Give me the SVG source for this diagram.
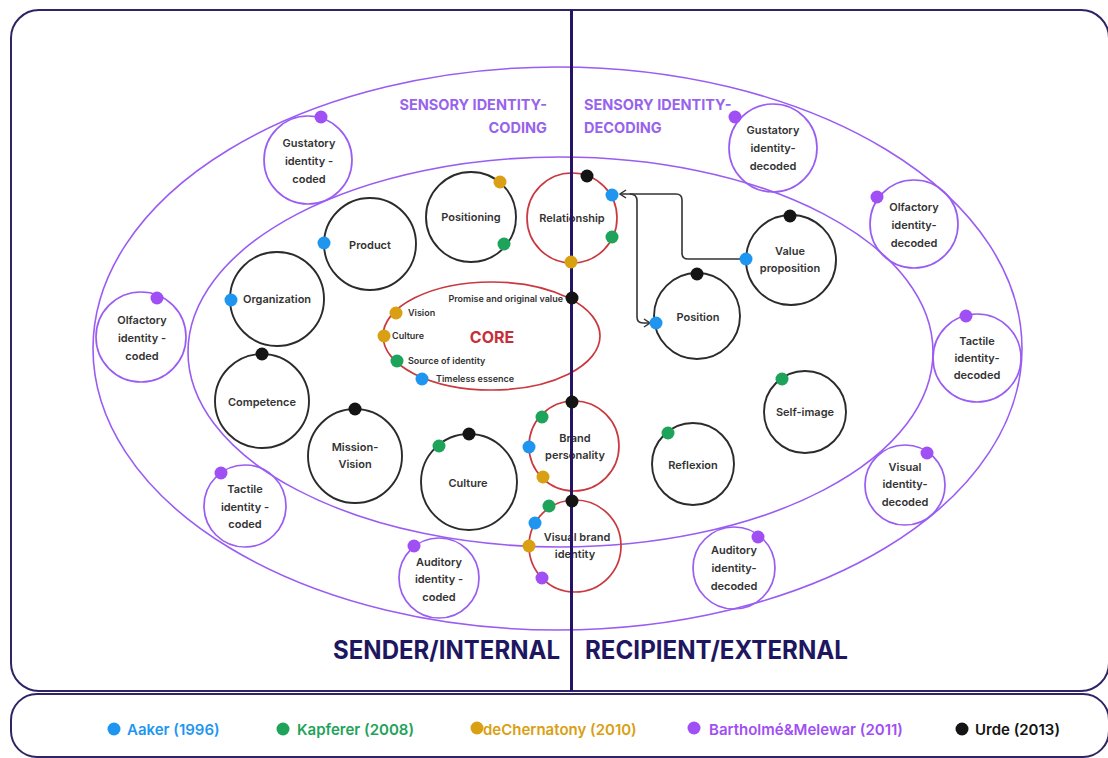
<svg xmlns="http://www.w3.org/2000/svg" width="1108" height="758" viewBox="0 0 1108 758">
  <defs>
    <style>
      .box{fill:none;stroke:#2e2466;stroke-width:2}
      .ring{fill:none;stroke:#9a5cf2;stroke-width:1.6}
      .node{fill:none;stroke:#2b2b2b;stroke-width:1.9}
      .sense{fill:none;stroke:#9a5cf2;stroke-width:1.7}
      .red{fill:none;stroke:#c9393f;stroke-width:1.7}
      .t{font-family:Inter,"Liberation Sans",sans-serif;font-weight:600;font-size:11px;fill:#333;text-anchor:middle}
      .s{font-family:Inter,"Liberation Sans",sans-serif;font-weight:600;font-size:9px;fill:#333}
      .head{font-family:Inter,"Liberation Sans",sans-serif;font-weight:700;font-size:14.5px;fill:#9863ec}
      .big{font-family:Inter,"Liberation Sans",sans-serif;font-weight:700;font-size:25px;fill:#1e1660}
      .leg{font-family:Inter,"Liberation Sans",sans-serif;font-weight:600;font-size:15px}
      .a{fill:#1e96f0}
      .k{fill:#1ea35a}
      .c{fill:#d8a012}
      .b{fill:#a04ff5}
      .u{fill:#141414}
      .link{fill:none;stroke:#333;stroke-width:1.6}
    </style>
    <marker id="chev" viewBox="0 0 8 10" refX="7" refY="5" markerWidth="8" markerHeight="10" markerUnits="userSpaceOnUse" orient="auto">
      <path d="M1,1 L7,5 L1,9" fill="none" stroke="#333" stroke-width="1.5"/>
    </marker>
  </defs>

  <rect width="1108" height="758" fill="#ffffff"/>

  <!-- frames -->
  <rect class="box" x="11" y="10" width="1098" height="681" rx="28"/>
  <rect class="box" x="11" y="694" width="1098" height="63" rx="26"/>

  <!-- sensory rings -->
  <ellipse class="ring" cx="557.5" cy="348.5" rx="464.5" ry="281.5"/>
  <ellipse class="ring" cx="560.5" cy="352" rx="372.5" ry="195"/>

  <!-- ring headings -->
  <text class="head" x="547" y="110" text-anchor="end">SENSORY IDENTITY-</text>
  <text class="head" x="547" y="133" text-anchor="end">CODING</text>
  <text class="head" x="584" y="110">SENSORY IDENTITY-</text>
  <text class="head" x="584" y="133">DECODING</text>

  <!-- sender side: coded sensory identities -->
  <g id="gustatory-coded">
    <circle class="sense" cx="308" cy="160" r="44"/>
    <text class="t" x="309" y="147">Gustatory</text>
    <text class="t" x="309" y="165">identity -</text>
    <text class="t" x="309" y="183">coded</text>
    <circle class="b" cx="321" cy="117" r="6.5"/>
  </g>
  <g id="olfactory-coded">
    <circle class="sense" cx="141" cy="337" r="45"/>
    <text class="t" x="142" y="324">Olfactory</text>
    <text class="t" x="142" y="342">identity -</text>
    <text class="t" x="142" y="360">coded</text>
    <circle class="b" cx="157" cy="298" r="6.5"/>
  </g>
  <g id="tactile-coded">
    <circle class="sense" cx="245" cy="506" r="41"/>
    <text class="t" x="245" y="493">Tactile</text>
    <text class="t" x="245" y="511">identity -</text>
    <text class="t" x="245" y="528">coded</text>
    <circle class="b" cx="221" cy="473" r="6.5"/>
  </g>
  <g id="auditory-coded">
    <circle class="sense" cx="439" cy="578" r="40"/>
    <text class="t" x="439" y="566">Auditory</text>
    <text class="t" x="439" y="583">identity -</text>
    <text class="t" x="439" y="601">coded</text>
    <circle class="b" cx="414" cy="546" r="6.5"/>
  </g>

  <!-- recipient side: decoded sensory identities -->
  <g id="gustatory-decoded">
    <circle class="sense" cx="773" cy="148" r="44"/>
    <text class="t" x="773" y="134">Gustatory</text>
    <text class="t" x="773" y="152">identity-</text>
    <text class="t" x="773" y="170">decoded</text>
    <circle class="b" cx="735" cy="117" r="6.5"/>
  </g>
  <g id="olfactory-decoded">
    <circle class="sense" cx="914" cy="224" r="44"/>
    <text class="t" x="914" y="211">Olfactory</text>
    <text class="t" x="914" y="229">identity-</text>
    <text class="t" x="914" y="247">decoded</text>
    <circle class="b" cx="877" cy="197" r="6.5"/>
  </g>
  <g id="tactile-decoded">
    <circle class="sense" cx="977" cy="358" r="44"/>
    <text class="t" x="977" y="345">Tactile</text>
    <text class="t" x="977" y="362">identity-</text>
    <text class="t" x="977" y="379">decoded</text>
    <circle class="b" cx="966" cy="316" r="6.5"/>
  </g>
  <g id="visual-decoded">
    <circle class="sense" cx="905" cy="485" r="40"/>
    <text class="t" x="905" y="471">Visual</text>
    <text class="t" x="905" y="488">identity-</text>
    <text class="t" x="905" y="506">decoded</text>
    <circle class="b" cx="927" cy="453" r="6.5"/>
  </g>
  <g id="auditory-decoded">
    <circle class="sense" cx="734" cy="568" r="41"/>
    <text class="t" x="734" y="554">Auditory</text>
    <text class="t" x="734" y="572">identity-</text>
    <text class="t" x="734" y="590">decoded</text>
    <circle class="b" cx="758" cy="537" r="6.5"/>
  </g>

  <!-- identity elements -->
  <g id="product">
    <circle class="node" cx="370" cy="244" r="46"/>
    <text class="t" x="370" y="249">Product</text>
  </g>
  <g id="positioning">
    <circle class="node" cx="471" cy="217" r="45"/>
    <text class="t" x="471" y="221">Positioning</text>
  </g>
  <g id="organization">
    <circle class="node" cx="277" cy="299" r="47"/>
    <text class="t" x="277" y="303">Organization</text>
  </g>
  <g id="competence">
    <circle class="node" cx="262" cy="401" r="47"/>
    <text class="t" x="262" y="406">Competence</text>
  </g>
  <g id="mission-vision">
    <circle class="node" cx="355" cy="456" r="47"/>
    <text class="t" x="355" y="451">Mission-</text>
    <text class="t" x="355" y="468">Vision</text>
  </g>
  <g id="culture">
    <circle class="node" cx="469" cy="482" r="48"/>
    <text class="t" x="468" y="487">Culture</text>
  </g>
  <g id="value-proposition">
    <circle class="node" cx="791" cy="260" r="45"/>
    <text class="t" x="790" y="255">Value</text>
    <text class="t" x="790" y="272">proposition</text>
  </g>
  <g id="position">
    <circle class="node" cx="697" cy="316" r="43"/>
    <text class="t" x="698" y="321">Position</text>
  </g>
  <g id="self-image">
    <circle class="node" cx="805" cy="412" r="41"/>
    <text class="t" x="805" y="416">Self-image</text>
  </g>
  <g id="reflexion">
    <circle class="node" cx="693" cy="464" r="41"/>
    <text class="t" x="693" y="469">Reflexion</text>
  </g>

  <!-- shared elements across the divide -->
  <g id="relationship">
    <circle class="red" cx="572" cy="218" r="45"/>
    <text class="t" x="572" y="222">Relationship</text>
  </g>
  <g id="core">
    <ellipse class="red" cx="491.5" cy="336" rx="108.5" ry="54"/>
    <text x="492" y="343" text-anchor="middle" font-family="Inter, 'Liberation Sans', sans-serif" font-weight="700" font-size="16" fill="#c62f3a">CORE</text>
    <text class="s" x="563" y="302" text-anchor="end">Promise and original value</text>
    <text class="s" x="408" y="316">Vision</text>
    <text class="s" x="392" y="339">Culture</text>
    <text class="s" x="408" y="364">Source of identity</text>
    <text class="s" x="436" y="382">Timeless essence</text>
  </g>
  <g id="brand-personality">
    <circle class="red" cx="574" cy="446" r="45"/>
    <text class="t" x="575" y="442">Brand</text>
    <text class="t" x="575" y="459">personality</text>
  </g>
  <g id="visual-brand-identity">
    <circle class="red" cx="575" cy="546" r="46"/>
    <text class="t" x="577" y="541">Visual brand</text>
    <text class="t" x="575" y="558">identity</text>
  </g>

  <!-- sender / recipient divide -->
  <line x1="571.5" y1="10" x2="571.5" y2="691" stroke="#231466" stroke-width="3"/>

  <!-- connectors -->
  <g id="connectors">
    <path class="link" d="M746,259 H688 Q682,259 682,253 V200 Q682,194 676,194 H620" marker-end="url(#chev)"/>
    <path class="link" d="M630,194 Q637,194 637,201 V317 Q637,323 643,323 H650" marker-end="url(#chev)"/>
  </g>

  <!-- source markers on elements -->
  <g id="markers">
    <circle class="a" cx="324" cy="243" r="6.5"/>
    <circle class="c" cx="500" cy="182" r="6.5"/>
    <circle class="k" cx="504" cy="244" r="6.5"/>
    <circle class="a" cx="231" cy="300" r="6.5"/>
    <circle class="u" cx="262" cy="354" r="6.5"/>
    <circle class="u" cx="355" cy="409" r="6.5"/>
    <circle class="u" cx="469" cy="434" r="6.5"/>
    <circle class="k" cx="439" cy="446" r="6.5"/>
    <circle class="u" cx="790" cy="216" r="6.5"/>
    <circle class="a" cx="746" cy="259" r="6.5"/>
    <circle class="u" cx="697" cy="274" r="6.5"/>
    <circle class="a" cx="656" cy="323" r="6.5"/>
    <circle class="k" cx="782" cy="379" r="6.5"/>
    <circle class="k" cx="668" cy="433" r="6.5"/>
    <!-- relationship -->
    <circle class="u" cx="587" cy="176" r="6.5"/>
    <circle class="a" cx="612" cy="195" r="6.5"/>
    <circle class="k" cx="612" cy="237" r="6.5"/>
    <circle class="c" cx="571" cy="262" r="6.5"/>
    <!-- core -->
    <circle class="u" cx="572" cy="298" r="6.5"/>
    <circle class="c" cx="396" cy="313" r="6.5"/>
    <circle class="c" cx="384" cy="336" r="6.5"/>
    <circle class="k" cx="397" cy="361" r="6.5"/>
    <circle class="a" cx="422" cy="379" r="6.5"/>
    <!-- brand personality -->
    <circle class="u" cx="572" cy="402" r="6.5"/>
    <circle class="k" cx="542" cy="417" r="6.5"/>
    <circle class="a" cx="529" cy="447" r="6.5"/>
    <circle class="c" cx="543" cy="477" r="6.5"/>
    <!-- visual brand identity -->
    <circle class="u" cx="572" cy="501" r="6.5"/>
    <circle class="k" cx="549" cy="506" r="6.5"/>
    <circle class="a" cx="535" cy="523" r="6.5"/>
    <circle class="c" cx="529" cy="546" r="6.5"/>
    <circle class="b" cx="542" cy="578" r="6.5"/>
  </g>

  <!-- side labels -->
  <text class="big" x="333" y="659" textLength="227" lengthAdjust="spacingAndGlyphs">SENDER/INTERNAL</text>
  <text class="big" x="585" y="659" textLength="263" lengthAdjust="spacingAndGlyphs">RECIPIENT/EXTERNAL</text>

  <!-- legend -->
  <g id="legend">
    <circle class="a" cx="114" cy="729" r="6.5"/>
    <text class="leg a" x="127" y="734.5">Aaker (1996)</text>
    <circle class="k" cx="283" cy="729" r="6.5"/>
    <text class="leg k" x="297" y="734.5">Kapferer (2008)</text>
    <circle class="c" cx="477" cy="728" r="6.5"/>
    <text class="leg c" x="483" y="734.5">deChernatony (2010)</text>
    <circle class="b" cx="694" cy="728" r="6.5"/>
    <text class="leg b" x="709" y="734.5">Bartholmé&amp;Melewar (2011)</text>
    <circle class="u" cx="962" cy="729" r="6.5"/>
    <text class="leg u" x="975" y="734.5">Urde (2013)</text>
  </g>
</svg>
